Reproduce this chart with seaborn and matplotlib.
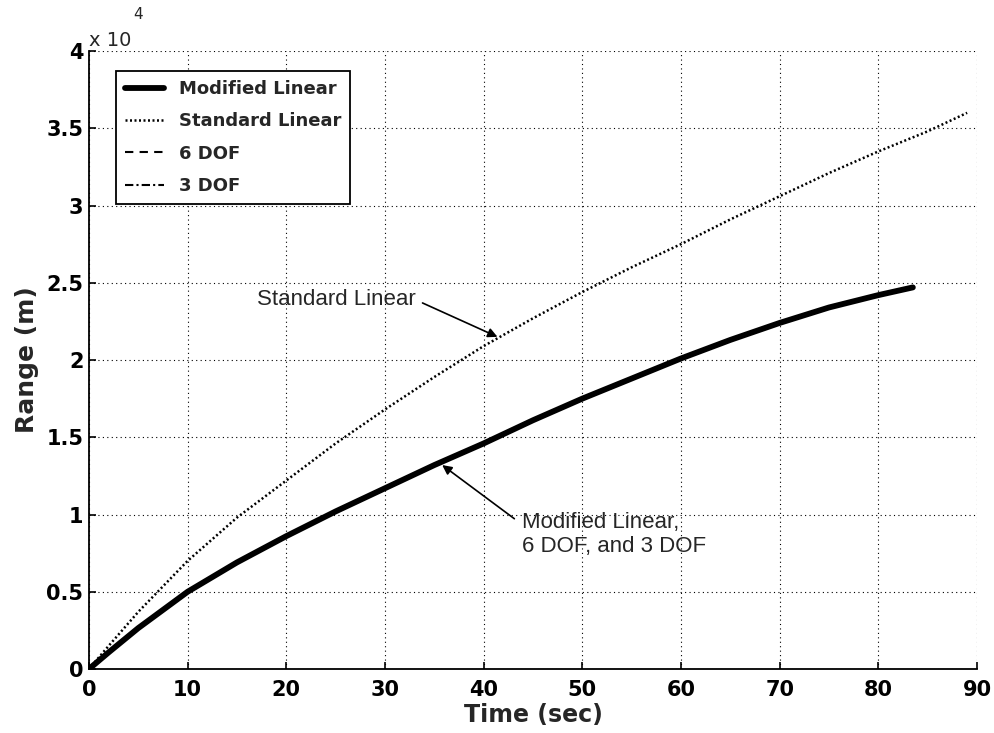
import numpy as np
import pandas as pd
import matplotlib
matplotlib.use("Agg")
import matplotlib.pyplot as plt
import matplotlib.ticker as mticker
import seaborn as sns

# Data (range in metres)
t_std = [0, 2, 5, 10, 15, 20, 25, 30, 35, 40, 45, 50, 55, 60, 65, 70, 75, 80, 85, 89]
r_std = [0, 1500, 3700, 7000, 9800, 12200, 14600, 16800, 18900, 20900, 22700, 24400, 26000, 27500, 29100, 30600, 32100, 33500, 34800, 36000]

t_mod = [0, 2, 5, 10, 15, 20, 25, 30, 35, 40, 45, 50, 55, 60, 65, 70, 75, 80, 83.5]
r_mod = [0, 1080, 2650, 5000, 6900, 8600, 10200, 11700, 13200, 14600, 16100, 17500, 18800, 20100, 21300, 22400, 23400, 24200, 24700]
r_6dof = [0, 1080, 2650, 5000, 6900, 8600, 10200, 11700, 13200, 14600, 16100, 17500, 18800, 20100, 21300, 22400, 23400, 24200, 24700]
r_3dof = [0, 1080, 2650, 5000, 6900, 8600, 10200, 11700, 13200, 14600, 16100, 17500, 18800, 20100, 21300, 22400, 23400, 24200, 24700]

x_ticks = [0, 10, 20, 30, 40, 50, 60, 70, 80, 90]
y_ticks = [0, 5000, 10000, 15000, 20000, 25000, 30000, 35000, 40000]

sns.set_theme(style="white")
plt.rcParams['font.family'] = ['DejaVu Sans']

fig = plt.figure(figsize=(9.95, 7.33), dpi=100)
ax = fig.add_axes([0.0894, 0.0873, 0.8925, 0.8431])

df_mod = pd.DataFrame({"t": t_mod, "r": r_mod})
df_std = pd.DataFrame({"t": t_std, "r": r_std})
df_6 = pd.DataFrame({"t": t_mod, "r": r_6dof})
df_3 = pd.DataFrame({"t": t_mod, "r": r_3dof})

sns.lineplot(data=df_mod, x="t", y="r", ax=ax, color="black", lw=4.2, label="Modified Linear")
sns.lineplot(data=df_std, x="t", y="r", ax=ax, color="black", lw=1.8, ls=(0, (0.8, 1.0)), label="Standard Linear")
sns.lineplot(data=df_6, x="t", y="r", ax=ax, color="black", lw=1.5, ls=(0, (4, 3)), label="6 DOF")
sns.lineplot(data=df_3, x="t", y="r", ax=ax, color="black", lw=1.5, ls=(0, (4, 1.5, 1, 1.5)), label="3 DOF")

ax.set_xlim(0, 90)
ax.set_ylim(0, 40000)
ax.set_xticks(x_ticks)
ax.set_yticks(y_ticks)
ax.yaxis.set_major_formatter(mticker.FuncFormatter(lambda v, p: f"{v/1e4:g}"))
ax.grid(True, color="black", ls=(0, (1, 3)), lw=0.8)
ax.spines["top"].set_visible(False)
ax.spines["right"].set_visible(False)
for s in ("left", "bottom"):
    ax.spines[s].set_color("black")
    ax.spines[s].set_linewidth(1.3)
ax.tick_params(axis="both", direction="in", length=5, width=1.2, colors="black",
               labelsize=15, bottom=True, left=True, top=False, right=False)
ax.tick_params(axis="x", pad=8)
ax.tick_params(axis="y", pad=4)
for lab in ax.get_xticklabels() + ax.get_yticklabels():
    lab.set_fontweight("bold")

ax.set_xlabel("Time (sec)", fontsize=17, fontweight="bold", labelpad=2)
ax.set_ylabel("Range (m)", fontsize=18, fontweight="bold", labelpad=5)

ax.text(0.0, 1.008, "x 10", transform=ax.transAxes, fontsize=14, ha="left", va="baseline")
ax.text(0.050, 1.047, "4", transform=ax.transAxes, fontsize=11, ha="left", va="bottom")

leg = ax.legend(loc="upper left", bbox_to_anchor=(0.030, 0.968), fontsize=13, frameon=True,
                fancybox=False, edgecolor="black", framealpha=1, handlelength=2.2,
                handletextpad=0.8, borderpad=0.5, labelspacing=0.8, borderaxespad=0)
leg.get_frame().set_linewidth(1.3)
for txt in leg.get_texts():
    txt.set_fontweight("bold")

ann_font = dict(fontsize=16, family="Liberation Sans")
ax.annotate("Standard Linear", xy=(41.4, 21500), xytext=(17.0, 23900), ha="left", va="center",
            arrowprops=dict(arrowstyle="-|>", color="black", lw=1.2, mutation_scale=14,
                            shrinkA=3, shrinkB=0, relpos=(1.0, 0.5)), **ann_font)
ax.annotate("Modified Linear,\n6 DOF, and 3 DOF", xy=(35.8, 13200), xytext=(43.9, 8700),
            ha="left", va="center", linespacing=1.15,
            arrowprops=dict(arrowstyle="-|>", color="black", lw=1.2, mutation_scale=14,
                            shrinkA=2, shrinkB=0, relpos=(-0.03, 0.82)), **ann_font)

fig.savefig("out.png", dpi=100, facecolor="white")
